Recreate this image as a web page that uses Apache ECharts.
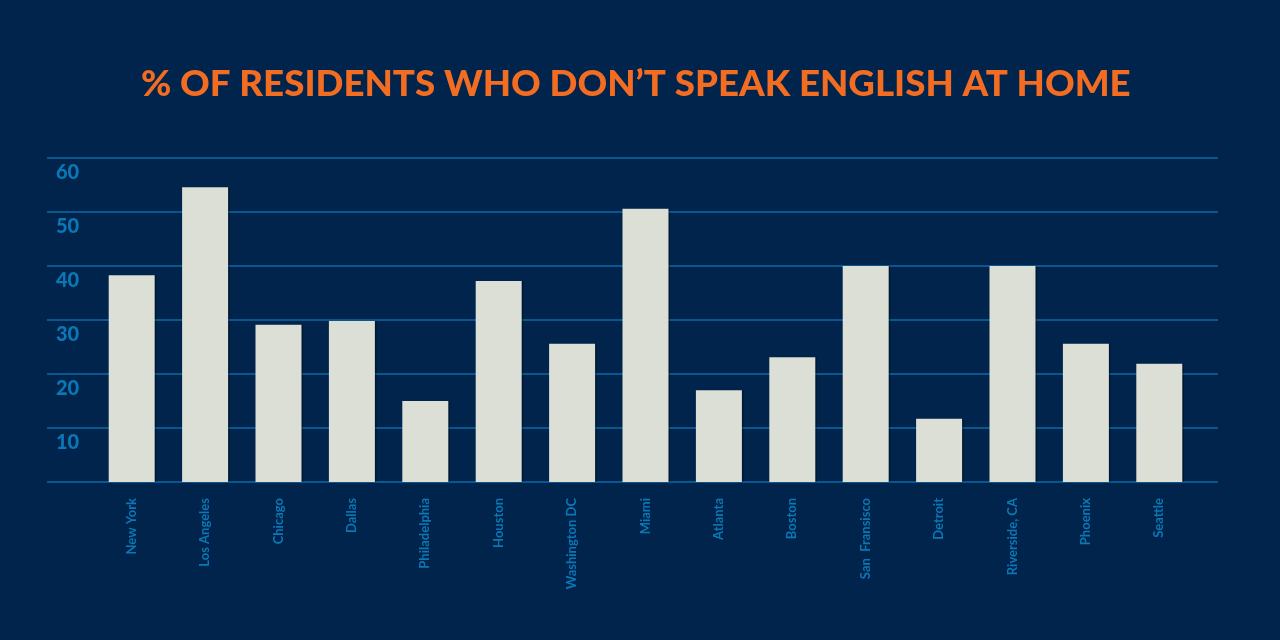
<!DOCTYPE html>
<html><head><meta charset="utf-8">
<script src="https://cdn.jsdelivr.net/npm/echarts@6/dist/echarts.min.js"></script>
<style>html,body{margin:0;padding:0;background:#00244b;}#c{width:1280px;height:640px;}</style>
</head><body><div id="c"></div>
<script>
const cities = ["New York","Los Angeles","Chicago","Dallas","Philadelphia","Houston","Washington DC","Miami","Atlanta","Boston","San  Fransisco","Detroit","Riverside, CA","Phoenix","Seattle"];
const shares = [38.3,54.6,29.1,29.8,15.0,37.2,25.6,50.6,17.0,23.1,40.0,11.7,40.0,25.6,21.9];
const yTicks = [0,10,20,30,40,50,60];
const titleText = "% OF RESIDENTS WHO DON\u2019T SPEAK ENGLISH AT HOME";

const chart = echarts.init(document.getElementById('c'));
const lineCol = '#0b6aa6', labCol = '#0a78b6';
chart.setOption({
  backgroundColor: '#00244b',
  animation: false,
  title: {text: titleText, left: 136, top: 61,
    textStyle: {color: '#f26c22', fontFamily: 'Lato', fontWeight: 900, fontSize: 36.7}},
  grid: [
    {left: 47, right: 62, top: 158, bottom: 158},
    {left: 95, right: 84, top: 158, bottom: 158}
  ],
  xAxis: [
    {gridIndex: 0, type: 'value', show: false, min: 0, max: 1},
    {gridIndex: 1, type: 'category', data: cities,
      axisLine: {show: false}, axisTick: {show: false},
      axisLabel: {rotate: 90, margin: 16, color: labCol, fontFamily: 'Lato', fontWeight: 'bold', fontSize: 13}}
  ],
  yAxis: [
    {gridIndex: 0, type: 'value', min: yTicks[0], max: yTicks[yTicks.length-1], interval: 10,
      axisLine: {show: false}, axisTick: {show: false},
      splitLine: {show: true, lineStyle: {color: lineCol, width: 1.5}},
      axisLabel: {inside: true, margin: 9, align: 'left', verticalAlign: 'top', padding: [5,0,0,0],
        color: labCol, fontFamily: 'Lato', fontWeight: 900, fontSize: 20,
        formatter: v => v === 0 ? '' : String(v)}},
    {gridIndex: 1, type: 'value', min: 0, max: 60, interval: 10, show: false}
  ],
  series: [{
    type: 'bar', xAxisIndex: 1, yAxisIndex: 1, data: shares, barWidth: 46, z: 1,
    itemStyle: {color: '#dcdfd6', shadowColor: 'rgba(0,0,0,0.35)', shadowOffsetX: 1.5}
  }]
});
</script></body></html>
